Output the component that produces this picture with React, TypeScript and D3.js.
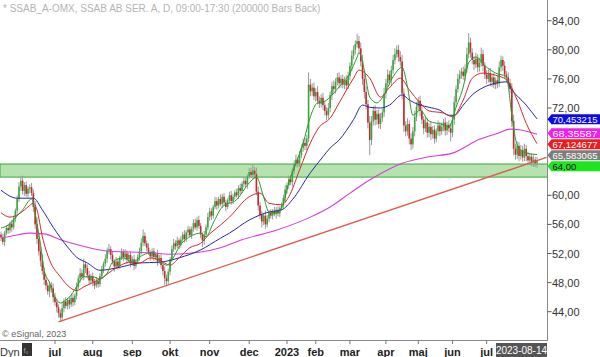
import React from "react";
import * as d3 from "d3";

const W = 600;
const H = 357;
const PLOT_RIGHT = 547.5;
const PLOT_BOTTOM = 341;

const title = "* SSAB_A-OMX, SSAB AB SER. A, D, 09:00-17:30 (200000 Bars Back)";
const lastDate = "2023-08-14";
const firstOpen = 54.6;

const closes = [
  54.2, 53.6, 54.8, 55.5, 55.2, 56.1, 55.6, 56.8, 57.9, 59.5,
  61.2, 62.0, 60.6, 61.4, 60.2, 60.9, 61.1, 60.3, 58.4, 56.0,
  54.0, 52.3, 51.0, 49.6, 48.4, 47.6, 46.8, 47.6, 47.2, 46.0,
  45.3, 44.6, 43.8, 43.2, 44.5, 45.4, 44.8, 45.6, 45.0, 45.9,
  45.3, 46.2, 47.4, 48.6, 49.3, 48.8, 50.5, 50.0, 49.0, 48.3,
  48.9, 48.1, 47.6, 48.2, 47.8, 48.9, 49.8, 50.6, 51.3, 52.4,
  52.6, 51.8, 50.9, 50.2, 50.9, 50.3, 51.4, 52.2, 51.5, 52.0,
  51.2, 51.8, 50.6, 51.2, 50.3, 50.9, 51.5, 52.3, 53.5, 54.4,
  53.4, 52.8, 52.1, 51.6, 52.3, 51.5, 51.9, 50.9, 51.4, 50.4,
  49.6, 48.6, 48.2, 49.5, 51.2, 52.6, 53.4, 53.0, 53.8, 53.2,
  53.9, 54.6, 54.0, 54.9, 55.3, 54.5, 55.4, 56.2, 55.6, 56.6,
  55.8, 54.6, 53.8, 54.6, 55.6, 57.0, 57.8, 57.2, 58.4, 59.2,
  58.6, 59.5, 58.8, 59.8, 59.0, 58.4, 59.3, 60.0, 59.2, 59.8,
  60.4, 60.0, 61.0, 60.6, 61.6, 62.0, 61.5, 62.6, 63.2, 62.8,
  63.4, 62.9, 60.5, 58.6, 57.3, 56.4, 57.2, 56.0, 56.8, 57.6,
  57.2, 57.8, 57.4, 58.0, 57.5, 58.2, 58.6, 59.6, 60.8, 61.4,
  62.2, 61.8, 63.4, 64.3, 64.9, 64.4, 65.5, 66.5, 67.2, 66.8,
  67.8, 75.2, 74.3, 74.8, 73.6, 74.2, 73.0, 72.6, 73.4, 72.4,
  71.6, 71.0, 72.0, 73.8, 75.0, 74.6, 75.6, 76.2, 75.4, 76.0,
  75.2, 75.8, 75.1, 76.4, 77.8, 79.2, 80.0, 80.8, 81.2, 80.2,
  78.4, 76.0, 74.2, 72.5, 70.0, 67.6, 70.2, 71.6, 70.4, 71.2,
  69.8, 70.6, 71.4, 74.0, 75.4, 76.6, 75.8, 77.2, 78.6, 79.4,
  80.0, 79.0, 78.4, 74.0, 69.6, 68.8, 69.8, 67.8, 67.0, 68.8,
  70.8, 72.2, 73.0, 71.6, 70.4, 69.2, 70.0, 68.6, 69.4, 68.4,
  69.0, 67.8, 68.8, 69.6, 68.8, 69.4, 70.0, 68.9, 69.7, 69.2,
  68.6, 70.4, 72.8, 74.6, 76.0, 76.6, 77.0, 76.4, 77.4, 79.4,
  81.0, 79.6, 78.6, 78.0, 78.8, 77.6, 78.2, 79.4, 77.8, 76.6,
  76.0, 76.8, 75.6, 76.2, 75.2, 75.8, 75.4, 77.6, 78.6, 77.8,
  76.6, 76.2, 75.4, 74.6, 70.2, 66.4, 65.6, 66.8, 65.4, 66.2,
  65.2, 66.4, 65.4, 64.8, 65.3, 64.6, 64.9, 64.4, 64.8,
];

const upperWicks = [
  0.4,0.5,0.3,0.4,0.6,0.3,0.5,0.4,0.3,0.5,
  0.6,0.5,0.7,0.4,0.5,0.3,0.4,0.6,0.5,0.8,
  1.0,0.8,0.6,0.9,0.5,0.7,0.4,0.6,0.5,0.7,
  0.6,0.5,0.4,0.5,0.7,0.4,0.6,0.3,0.5,0.4,
  0.5,0.3,0.6,0.4,0.7,0.5,0.8,0.4,0.5,0.6,
  0.3,0.5,0.4,0.6,0.3,0.4,0.5,0.3,0.6,0.4,
  0.7,0.4,0.5,0.3,0.6,0.4,0.3,0.5,0.4,0.6,
  0.4,0.3,0.5,0.4,0.6,0.3,0.4,0.5,0.6,0.9,
  0.5,0.4,0.6,0.3,0.4,0.5,0.3,0.6,0.4,0.5,
  0.4,0.6,0.5,0.4,0.3,0.5,0.6,0.4,0.5,0.3,
  0.5,0.4,0.6,0.3,0.5,0.4,0.3,0.5,0.6,0.4,
  0.6,0.4,0.3,0.5,0.4,0.6,0.5,0.4,0.3,0.6,
  0.5,0.3,0.6,0.4,0.5,0.4,0.3,0.5,0.6,0.4,
  0.3,0.5,0.4,0.6,0.3,0.5,0.4,0.3,0.5,0.6,
  0.8,0.5,0.9,0.7,0.5,0.6,0.4,0.7,0.5,0.4,
  0.5,0.3,0.6,0.4,0.5,0.3,0.4,0.5,0.6,0.4,
  0.5,0.6,0.4,0.5,0.7,0.4,0.6,0.5,0.6,0.7,
  0.5,1.7,0.8,0.6,0.7,0.5,0.8,0.6,0.5,0.7,
  0.6,0.5,0.7,0.5,0.6,0.8,0.5,0.6,0.7,0.5,
  0.6,0.5,0.7,0.6,0.5,0.7,0.6,0.5,1.0,0.7,
  0.8,0.9,0.7,0.8,0.6,0.9,0.7,0.6,0.8,0.5,
  0.6,0.7,0.5,0.8,0.6,0.7,0.5,0.6,0.7,0.8,
  0.6,0.7,0.8,0.9,0.7,0.6,0.8,0.5,0.7,0.6,
  0.8,0.6,0.5,0.7,0.6,0.5,0.7,0.6,0.5,0.7,
  0.5,0.6,0.4,0.7,0.5,0.6,0.5,0.7,0.4,0.6,
  0.7,0.6,0.8,0.5,0.7,0.6,0.5,0.7,0.6,0.9,
  1.3,0.7,0.6,0.5,0.8,0.6,0.7,0.9,0.6,0.5,
  0.6,0.5,0.7,0.5,0.6,0.4,0.6,0.8,0.6,0.5,
  0.6,0.5,0.7,0.6,0.8,0.9,0.7,0.6,0.5,0.7,
  0.6,0.7,0.5,0.6,0.4,0.5,0.6,0.4,0.5,
];

const lowerWicks = [
  0.5,0.4,0.6,0.3,0.5,0.4,0.6,0.3,0.5,0.4,
  0.4,0.6,0.5,0.7,0.4,0.5,0.6,0.4,0.7,0.6,
  0.7,0.6,0.8,0.5,0.7,0.6,0.5,0.8,0.6,0.7,
  0.5,0.7,0.6,0.6,0.5,0.6,0.4,0.5,0.6,0.4,
  0.6,0.4,0.5,0.3,0.6,0.4,0.5,0.7,0.4,0.5,
  0.4,0.6,0.5,0.3,0.5,0.4,0.3,0.5,0.4,0.6,
  0.5,0.6,0.4,0.7,0.3,0.5,0.4,0.3,0.6,0.4,
  0.6,0.4,0.5,0.3,0.6,0.4,0.3,0.5,0.4,0.5,
  0.4,0.5,0.3,0.6,0.4,0.5,0.4,0.6,0.3,0.5,
  0.6,0.9,0.7,0.4,0.5,0.3,0.4,0.5,0.3,0.6,
  0.4,0.3,0.5,0.4,0.6,0.3,0.5,0.4,0.3,0.5,
  0.4,0.5,0.9,0.6,0.3,0.4,0.5,0.6,0.4,0.3,
  0.6,0.4,0.3,0.5,0.4,0.6,0.3,0.4,0.5,0.4,
  0.4,0.3,0.5,0.4,0.3,0.5,0.4,0.6,0.3,0.4,
  0.5,0.6,0.5,0.7,0.6,0.8,0.5,0.6,0.4,0.5,
  0.4,0.5,0.3,0.6,0.4,0.5,0.3,0.4,0.5,0.6,
  0.5,0.4,0.6,0.5,0.4,0.6,0.5,0.4,0.5,0.6,
  0.6,0.5,0.7,0.6,0.5,0.7,0.5,0.6,0.5,0.7,
  0.6,0.7,0.5,0.6,0.7,0.5,0.6,0.5,0.7,0.6,
  0.5,0.6,0.7,0.5,0.6,0.7,0.5,0.6,0.5,0.6,
  0.7,0.8,0.9,0.7,0.8,2.1,0.7,0.6,0.8,0.7,
  0.6,0.7,0.5,0.6,0.7,0.5,0.6,0.7,0.5,0.6,
  0.5,0.6,0.7,0.8,0.9,0.7,0.6,0.8,0.8,0.6,
  0.7,0.6,0.5,0.7,0.6,0.8,0.5,0.7,0.6,0.8,
  0.6,0.7,0.5,0.6,0.7,0.5,0.6,0.7,0.6,0.5,
  1.2,0.6,0.7,0.6,0.5,0.7,0.6,0.5,0.7,0.6,
  0.6,0.7,0.6,0.8,0.5,0.7,0.6,0.5,0.7,0.6,
  0.7,0.5,0.6,0.7,0.5,0.6,0.7,0.5,0.6,0.7,
  0.6,0.7,0.5,0.6,0.8,0.9,0.7,0.6,0.7,0.5,
  0.6,0.5,0.7,0.6,0.5,0.6,0.7,0.5,0.6,
];

// moving averages: [bar index, value]
const maFast: [number, number][] = [
  [0,55.5],[4,55.9],[8,56.9],[12,58.0],[17,59.5],[20,56.1],[22,53.2],[24,49.7],[27,48.0],[30,46.0],
  [33,45.2],[36,45.6],[38,46.0],[42,47.4],[46,48.8],[51,48.8],[55,48.5],[59,49.3],[62,50.8],[68,51.4],
  [73,50.8],[79,51.8],[84,52.1],[89,50.8],[92,50.4],[96,51.5],[99,52.9],[105,54.3],[111,54.8],[114,54.3],
  [118,56.2],[123,58.4],[131,59.4],[138,61.7],[142,62.5],[146,59.8],[149,57.7],[153,57.6],[157,58.9],[160,61.7],
  [164,64.4],[168,67.2],[172,70.8],[176,72.7],[179,72.8],[183,73.5],[188,74.9],[194,76.8],[198,79.0],[199,79.6],
  [202,77.2],[205,73.5],[209,72.7],[212,73.4],[218,76.3],[223,77.6],[226,74.9],[229,71.0],[233,71.7],[238,70.2],
  [246,69.7],[249,69.4],[253,72.1],[257,74.9],[260,78.2],[264,79.0],[270,77.6],[275,76.8],[281,76.3],[284,71.0],
  [287,66.9],[292,65.8],[298,65.6],
];
const maMid: [number, number][] = [
  [0,57.6],[5,57.0],[11,57.6],[15,58.4],[18,58.9],[20,58.0],[23,54.3],[27,51.1],[33,48.8],[38,47.4],
  [42,46.9],[46,47.4],[51,48.0],[57,48.8],[62,49.7],[72,50.8],[77,50.7],[83,51.4],[88,51.1],[94,50.4],
  [99,51.4],[105,52.8],[111,53.4],[116,54.7],[122,55.9],[127,57.0],[138,59.8],[144,60.3],[149,58.9],[156,58.7],
  [160,59.8],[166,63.5],[172,67.2],[177,69.4],[183,70.6],[188,72.7],[196,76.1],[199,77.2],[205,76.1],[211,73.5],
  [216,74.8],[222,76.1],[227,74.5],[233,72.7],[238,71.6],[246,71.3],[251,70.8],[257,73.1],[262,76.1],[268,76.8],
  [275,76.5],[281,75.9],[287,73.1],[292,69.9],[298,67.1],
];
const maSlow: [number, number][] = [
  [0,60.7],[9,59.6],[18,59.6],[23,58.0],[29,55.6],[37,52.9],[42,51.5],[48,50.7],[55,49.7],[66,50.1],
  [77,50.7],[88,50.8],[99,51.4],[111,52.5],[122,54.1],[127,54.8],[138,56.6],[149,57.7],[156,58.0],[162,59.4],
  [172,63.1],[179,65.3],[183,66.5],[188,67.6],[196,70.4],[201,72.4],[205,72.1],[211,72.0],[216,72.4],[223,73.8],
  [227,73.1],[233,72.4],[238,72.1],[244,71.7],[249,71.0],[252,71.0],[257,72.4],[262,73.8],[268,74.8],[275,75.4],
  [281,75.6],[284,74.5],[292,72.4],[298,70.5],
];
const ma200: [number, number][] = [
  [0,54.1],[8,54.5],[16,54.8],[24,54.7],[33,53.9],[41,53.3],[49,52.8],[61,52.3],[72,52.2],[83,52.1],
  [94,51.9],[111,52.2],[122,52.8],[134,53.9],[153,55.2],[172,57.0],[183,58.4],[194,60.3],[207,62.4],[223,64.4],
  [238,65.3],[251,65.8],[266,67.7],[277,68.6],[283,69.1],[288,69.0],[298,68.4],
];

const trendLine: [number, number][] = [[32, 42.6], [303.3, 65.2]];
const bandLow = 62.5;
const bandHigh = 64.3;

const monthLabels = ["jul", "aug", "sep", "okt", "nov", "dec", "2023", "feb", "mar", "apr", "maj", "jun", "jul"];
const monthIndex = [30, 51, 73, 94, 116, 138, 159, 175, 194, 214, 232, 251, 270];

const valueLabels = [
  { text: "70,453215", value: 70.453215, color: "#0a0ae6", fg: "#ffffff" },
  { text: "68,35587", value: 68.35587, color: "#f01ef0", fg: "#ffffff" },
  { text: "67,124677", value: 67.124677, color: "#ec1c1c", fg: "#ffffff" },
  { text: "65,583065", value: 65.583065, color: "#7d7d7d", fg: "#ffffff" },
  { text: "64,00", value: 64.0, color: "#1ee61e", fg: "#111111" },
];

const FONT = "'Liberation Sans', Arial, sans-serif";

export default function App() {
  const x = d3.scaleLinear().domain([0, closes.length - 1]).range([1, 537]);
  const y = d3.scaleLinear().domain([44, 84]).range([311.7, 20.7]);
  const fmt = (v: number) => d3.format(".2f")(v).replace(".", ",");

  const candles = closes.map((c, i) => {
    const o = i === 0 ? firstOpen : closes[i - 1];
    const hi = Math.max(o, c) + upperWicks[i];
    const lo = Math.min(o, c) - lowerWicks[i];
    return { i, o, c, hi, lo };
  });

  const line = d3
    .line<[number, number]>()
    .x((d) => x(d[0]))
    .y((d) => y(d[1]))
    .curve(d3.curveMonotoneX);

  // label placement: keep the value tags from overlapping
  const GAP = 11;
  const tagY = valueLabels.map((l) => y(l.value));
  for (let it = 0; it < 20; it++) {
    for (let k = 1; k < tagY.length; k++) {
      const d = tagY[k] - tagY[k - 1];
      if (d < GAP) {
        const push = (GAP - d) / 2;
        tagY[k - 1] -= push;
        tagY[k] += push;
      }
    }
  }

  // axis labels that sit under a value label are hidden, as in the original
  const yTicks = d3
    .range(44, 85, 4)
    .filter((t) => tagY.every((ty) => Math.abs(ty - y(t)) > 8));

  return (
    <svg
      width={W}
      height={H}
      style={{ position: "absolute", left: 0, top: 0, background: "#fff" }}
      fontFamily={FONT}
    >
      <defs>
        <clipPath id="plot">
          <rect x={0} y={0} width={PLOT_RIGHT} height={PLOT_BOTTOM} />
        </clipPath>
      </defs>
      <rect x={0} y={0} width={W} height={H} fill="#fff" />
      <text x={3} y={12} fontSize={10} fill="#b4b4b4">{title}</text>

      <g clipPath="url(#plot)">
        <rect
          x={0}
          y={y(bandHigh)}
          width={PLOT_RIGHT}
          height={y(bandLow) - y(bandHigh)}
          fill="#b6e2b0"
          stroke="#38a838"
          strokeWidth={1}
        />
        {candles.map((d) => (
          <line
            key={"w" + d.i}
            x1={x(d.i)}
            x2={x(d.i)}
            y1={y(d.hi)}
            y2={y(d.lo)}
            stroke="#9a9a9a"
            strokeWidth={1}
          />
        ))}
        {candles.map((d) => {
          const top = y(Math.max(d.o, d.c));
          const h = Math.max(1, Math.abs(y(d.o) - y(d.c)));
          return (
            <rect
              key={"b" + d.i}
              x={x(d.i) - 0.8}
              y={top}
              width={1.6}
              height={h}
              fill={d.c >= d.o ? "#3aa83a" : "#c42a2a"}
            />
          );
        })}
        <path d={line(ma200) || ""} fill="none" stroke="#d83cd8" strokeWidth={1.1} />
        <path d={line(maSlow) || ""} fill="none" stroke="#2828a0" strokeWidth={1} />
        <path d={line(maMid) || ""} fill="none" stroke="#d22a2a" strokeWidth={1} />
        <path d={line(maFast) || ""} fill="none" stroke="#2a9a2a" strokeWidth={1} />
        <line
          x1={x(trendLine[0][0])}
          y1={y(trendLine[0][1])}
          x2={x(trendLine[1][0])}
          y2={y(trendLine[1][1])}
          stroke="#e2584a"
          strokeWidth={1.3}
        />
      </g>

      <text x={2} y={337} fontSize={9} fill="#666">© eSignal, 2023</text>

      {/* frame */}
      <line x1={PLOT_RIGHT} x2={PLOT_RIGHT} y1={0} y2={PLOT_BOTTOM} stroke="#8a8a8a" />
      <line x1={0} x2={PLOT_RIGHT} y1={PLOT_BOTTOM - 0.5} y2={PLOT_BOTTOM - 0.5} stroke="#8a8a8a" />

      {/* right axis */}
      {yTicks.map((t) => (
        <g key={"yt" + t}>
          <line x1={PLOT_RIGHT} x2={PLOT_RIGHT + 4} y1={y(t)} y2={y(t)} stroke="#555" />
          <text x={552} y={y(t) + 4} fontSize={11} fill="#333">{fmt(t)}</text>
        </g>
      ))}

      {/* value labels */}
      {valueLabels.map((l, k) => {
        const cy = tagY[k];
        const p = `M${PLOT_RIGHT},${cy} L${PLOT_RIGHT + 4},${cy - 5} L${W},${cy - 5} L${W},${cy + 5} L${PLOT_RIGHT + 4},${cy + 5} Z`;
        const long = l.text.length > 6;
        return (
          <g key={l.text}>
            <path d={p} fill={l.color} />
            <text
              x={552.5}
              y={cy + 3.4}
              fontSize={9.5}
              fill={l.fg}
              textLength={long ? 45 : undefined}
              lengthAdjust={long ? "spacingAndGlyphs" : undefined}
            >
              {l.text}
            </text>
          </g>
        );
      })}

      {/* bottom axis */}
      {monthIndex.map((mi, k) => (
        <g key={"m" + k}>
          <line x1={x(mi)} x2={x(mi)} y1={PLOT_BOTTOM - 1} y2={PLOT_BOTTOM + 3} stroke="#777" />
          <text x={x(mi)} y={355.5} fontSize={11} fontWeight="bold" fill="#222" textAnchor="middle">
            {monthLabels[k]}
          </text>
        </g>
      ))}
      <text x={0} y={355.5} fontSize={11} fill="#333">Dyn</text>
      <rect x={22} y={343} width={10} height={13} fill="#333" />
      <text x={23.5} y={353} fontSize={7} fill="#aaa">f₀</text>
      <rect x={496} y={343} width={51} height={14} fill="#555" />
      <text x={521.5} y={354} fontSize={10} fill="#fff" textAnchor="middle">{lastDate}</text>
    </svg>
  );
}
